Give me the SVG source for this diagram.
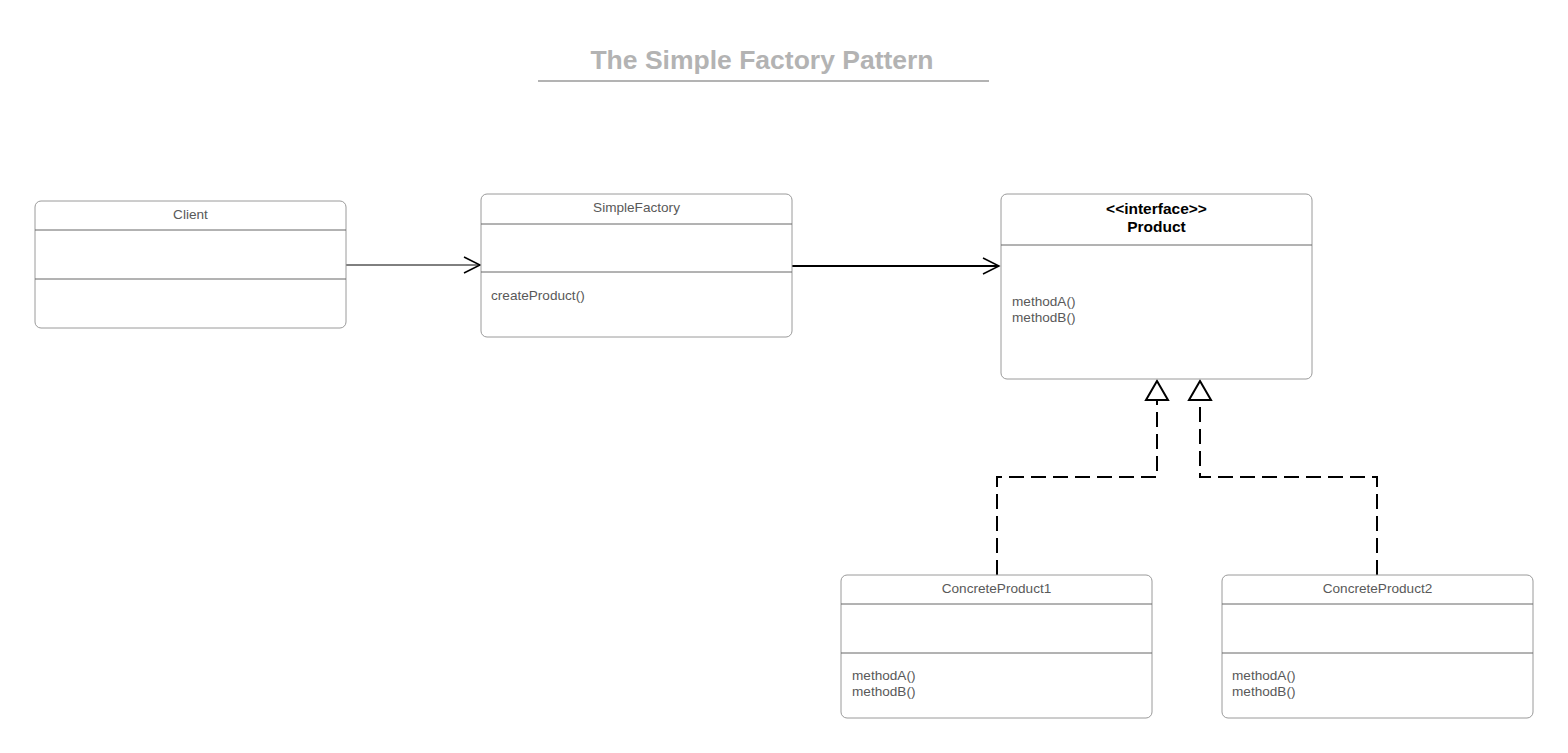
<svg xmlns="http://www.w3.org/2000/svg" width="1568" height="753" viewBox="0 0 1568 753">
<defs>
<style>
.box{fill:#fff;stroke:#9a9a9a;stroke-width:1}
.div{stroke:#666;stroke-width:1}
.t{font-family:"Liberation Sans",Arial,sans-serif;font-size:13.6px;fill:#595959}
.c{text-anchor:middle}
.b{font-family:"Liberation Sans",Arial,sans-serif;font-size:15.5px;font-weight:bold;fill:#000;text-anchor:middle}
.ln{fill:none;stroke:#000}
.dash{fill:none;stroke:#000;stroke-width:2;stroke-dasharray:15 7}
</style>
<marker id="open" viewBox="0 0 20 20" refX="18" refY="10" markerWidth="20" markerHeight="20" markerUnits="userSpaceOnUse" orient="auto">
<path d="M2,2 L18,10 L2,18" fill="none" stroke="#000" stroke-width="1.5"/>
</marker>
</defs>
<rect width="1568" height="753" fill="#fff"/>
<g id="title">
<text x="762" y="69" font-family="Liberation Sans,Arial,sans-serif" font-size="26.5" font-weight="bold" fill="#b3b3b3" text-anchor="middle">The Simple Factory Pattern</text>
<line x1="538" y1="81" x2="989" y2="81" stroke="#b3b3b3" stroke-width="2"/>
</g>
<g id="connectors">
<line class="ln" x1="346" y1="265" x2="480" y2="265" stroke-width="1" marker-end="url(#open)"/>
<line class="ln" x1="792" y1="266" x2="999" y2="266" stroke-width="2" marker-end="url(#open)"/>
<polyline class="dash" points="997,575 997,477 1157,477 1157,400"/>
<polyline class="dash" points="1377,575 1377,477 1200,477 1200,400"/>
<path d="M1157,381 L1168,400 L1146,400 Z" fill="#fff" stroke="#000" stroke-width="2"/>
<path d="M1200,381 L1211,400 L1189,400 Z" fill="#fff" stroke="#000" stroke-width="2"/>
</g>
<g id="client">
<rect class="box" x="35" y="201" width="311" height="127" rx="6"/>
<line class="div" x1="35" y1="230" x2="346" y2="230"/>
<line class="div" x1="35" y1="279" x2="346" y2="279"/>
<text class="t c" x="190.5" y="219">Client</text>
</g>
<g id="simplefactory">
<rect class="box" x="481" y="194" width="311" height="143" rx="6"/>
<line class="div" x1="481" y1="224" x2="792" y2="224"/>
<line class="div" x1="481" y1="272" x2="792" y2="272"/>
<text class="t c" x="636.5" y="212">SimpleFactory</text>
<text class="t" x="491" y="300">createProduct()</text>
</g>
<g id="product">
<rect class="box" x="1001" y="194" width="311" height="185" rx="6"/>
<line class="div" x1="1001" y1="245" x2="1312" y2="245"/>
<text class="b" x="1156.5" y="214">&lt;&lt;interface&gt;&gt;</text>
<text class="b" x="1156.5" y="232">Product</text>
<text class="t" x="1012" y="306">methodA()</text>
<text class="t" x="1012" y="322">methodB()</text>
</g>
<g id="concreteproduct1">
<rect class="box" x="841" y="575" width="311" height="143" rx="6"/>
<line class="div" x1="841" y1="604" x2="1152" y2="604"/>
<line class="div" x1="841" y1="653" x2="1152" y2="653"/>
<text class="t c" x="996.5" y="593">ConcreteProduct1</text>
<text class="t" x="852" y="680">methodA()</text>
<text class="t" x="852" y="696">methodB()</text>
</g>
<g id="concreteproduct2">
<rect class="box" x="1222" y="575" width="311" height="143" rx="6"/>
<line class="div" x1="1222" y1="604" x2="1533" y2="604"/>
<line class="div" x1="1222" y1="653" x2="1533" y2="653"/>
<text class="t c" x="1377.5" y="593">ConcreteProduct2</text>
<text class="t" x="1232" y="680">methodA()</text>
<text class="t" x="1232" y="696">methodB()</text>
</g>
</svg>
